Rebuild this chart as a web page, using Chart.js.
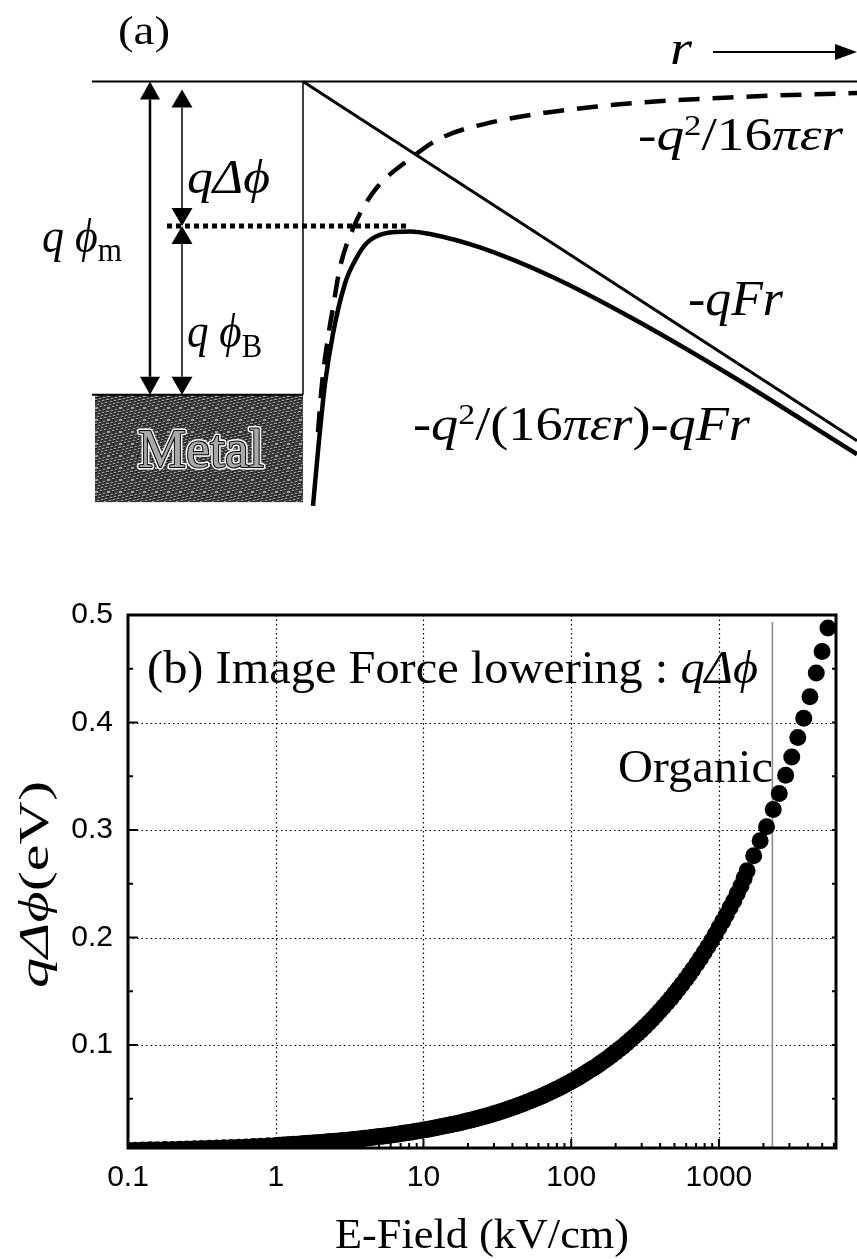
<!DOCTYPE html>
<html>
<head>
<meta charset="utf-8">
<script src="https://cdn.jsdelivr.net/npm/chart.js@4.4.1/dist/chart.umd.min.js"></script>
<style>
  html, body { margin: 0; padding: 0; background: #fff; }
  #wrap { position: relative; width: 857px; height: 1259px; }
  #diagram { position: absolute; left: 0; top: 0; }
  #plot { position: absolute; left: 0; top: 520px; }
</style>
</head>
<body>
<div id="wrap">
  <canvas id="diagram" width="857" height="520"></canvas>
  <canvas id="plot" width="857" height="739"></canvas>
</div>
<script>
// ---- (a) band diagram, r in arbitrary units (metal surface at r = 0), E in eV below vacuum level
const fieldR = [0, 5.54];
const fieldE = [0, -1.147];
const imageR = [0.15, 0.19, 0.25, 0.30, 0.37, 0.50, 0.70, 1.10, 1.37, 1.84, 2.94, 4.27, 5.54];
const imageE = [-1.12, -0.965, -0.818, -0.722, -0.594, -0.470, -0.355, -0.240, -0.182, -0.134, -0.080, -0.051, -0.037];
const totalR = [0.10, 0.15, 0.22, 0.30, 0.42, 0.52, 0.64, 0.82, 1.07, 1.27, 1.77, 2.50, 3.27, 4.27, 5.54];
const totalE = [-1.355, -1.18, -0.965, -0.805, -0.645, -0.572, -0.515, -0.485, -0.479, -0.487, -0.530, -0.625, -0.752, -0.937, -1.190];
const vacuumR = [-2.11, 5.54];
const workFn = 1.0;        // q phi_m
const lowering = 0.4615;   // q delta phi drawn in (a)

// ---- (b) image force lowering vs field (kV/cm, eV)
const fieldKV = [0.1, 0.112, 0.126, 0.141, 0.158, 0.178, 0.2, 0.224, 0.251, 0.282, 0.316, 0.355, 0.398, 0.447, 0.501, 0.562, 0.631, 0.708, 0.794, 0.891,
  1, 1.12, 1.26, 1.41, 1.58, 1.78, 2, 2.24, 2.51, 2.82, 3.16, 3.55, 3.98, 4.47, 5.01, 5.62, 6.31, 7.08, 7.94, 8.91,
  10, 11.2, 12.6, 14.1, 15.8, 17.8, 20, 22.4, 25.1, 28.2, 31.6, 35.5, 39.8, 44.7, 50.1, 56.2, 63.1, 70.8, 79.4, 89.1,
  100, 112, 126, 141, 158, 178, 200, 224, 251, 282, 316, 355, 398, 447, 501, 562, 631, 708, 794, 891,
  1000, 1120, 1260, 1410, 1550, 1720, 1900, 2100, 2330, 2560, 2830, 3110, 3420, 3750, 4130, 4560, 4990, 5470,
  // points lying between the ones above
  1.06, 1.19, 1.33, 1.50, 1.68, 1.88, 2.11, 2.37, 2.66, 2.99, 3.35, 3.76, 4.22, 4.73, 5.31, 5.96, 6.68, 7.50, 8.41, 9.44,
  10.6, 11.9, 13.3, 15.0, 16.8, 18.8, 21.1, 23.7, 26.6, 29.9, 33.5, 37.6, 42.2, 47.3, 53.1, 59.6, 66.8, 75.0, 84.1, 94.4,
  106, 119, 133, 150, 168, 188, 211, 237, 266, 299, 335, 376, 422, 473, 531, 596, 668, 750, 841, 944,
  1060, 1190, 1330, 1480];
const qDeltaPhi = [0.0021, 0.0022, 0.0023, 0.0025, 0.0026, 0.0028, 0.0029, 0.0031, 0.0033, 0.0035, 0.0037, 0.0039, 0.0042, 0.0044, 0.0047, 0.0049, 0.0052, 0.0056, 0.0059, 0.0062,
  0.0066, 0.0070, 0.0074, 0.0078, 0.0083, 0.0088, 0.0093, 0.0099, 0.0105, 0.0111, 0.0117, 0.0124, 0.0132, 0.0139, 0.0148, 0.0156, 0.0166, 0.0176, 0.0186, 0.0197,
  0.0209, 0.0221, 0.0234, 0.0248, 0.0263, 0.0278, 0.0295, 0.0312, 0.0331, 0.0350, 0.0371, 0.0393, 0.0416, 0.0441, 0.0467, 0.0495, 0.0524, 0.0555, 0.0588, 0.0623,
  0.0660, 0.0699, 0.0741, 0.0785, 0.0831, 0.0880, 0.0933, 0.0987, 0.1046, 0.1108, 0.1173, 0.1243, 0.1317, 0.1395, 0.1478, 0.1565, 0.1658, 0.1756, 0.1860, 0.1970,
  0.209, 0.221, 0.234, 0.248, 0.262, 0.276, 0.290, 0.303, 0.319, 0.334, 0.351, 0.368, 0.386, 0.404, 0.424, 0.446, 0.466, 0.488,
  0.0068, 0.0072, 0.0076, 0.0081, 0.0086, 0.0091, 0.0096, 0.0102, 0.0108, 0.0114, 0.0121, 0.0128, 0.0136, 0.0144, 0.0152, 0.0161, 0.0171, 0.0181, 0.0191, 0.0203,
  0.0215, 0.0228, 0.0241, 0.0255, 0.0270, 0.0286, 0.0303, 0.0321, 0.0340, 0.0361, 0.0382, 0.0405, 0.0429, 0.0454, 0.0481, 0.0509, 0.0540, 0.0572, 0.0605, 0.0641,
  0.0679, 0.0720, 0.0762, 0.0807, 0.0855, 0.0906, 0.0960, 0.1016, 0.1077, 0.1140, 0.1208, 0.1280, 0.1355, 0.1436, 0.1521, 0.1611, 0.1706, 0.1807, 0.1914, 0.2028,
  0.215, 0.228, 0.241, 0.255];
const xTicks = [0.1, 1, 10, 100, 1000];
const xTickLabels = ['0.1', '1', '10', '100', '1000'];
const yTicks = [0.1, 0.2, 0.3, 0.4, 0.5];
const yTickLabels = ['0.1', '0.2', '0.3', '0.4', '0.5'];
const markerField = 2300; // grey vertical line

const serif = '"Liberation Serif", "Times New Roman", serif';
const sans = '"Liberation Sans", Arial, sans-serif';

const pts = (xs, ys) => xs.map((v, i) => ({ x: v, y: ys[i] }));

// text made of runs [text, style], style n / i / sup / sub; optional width to stretch to
function runs(ctx, parts, x, y, size, align, width) {
  let w = 0;
  const items = parts.map(([t, s]) => {
    const sc = s === 'sup' ? 0.62 : s === 'sub' ? 0.7 : 1;
    const font = (s === 'i' ? 'italic ' : '') + Math.round(size * sc) + 'px ' + serif;
    ctx.font = font;
    const it = { t, font, x: w, dy: s === 'sup' ? -size * 0.33 : s === 'sub' ? size * 0.2 : 0 };
    w += ctx.measureText(t).width;
    return it;
  });
  const sx = width ? width / w : 1;
  const tw = w * sx;
  const x0 = align === 'center' ? x - tw / 2 : align === 'right' ? x - tw : x;
  ctx.save();
  ctx.translate(x0, y);
  ctx.scale(sx, 1);
  ctx.textAlign = 'left';
  ctx.textBaseline = 'alphabetic';
  items.forEach(it => { ctx.font = it.font; ctx.fillText(it.t, it.x, it.dy); });
  ctx.restore();
}

function metalPattern(ctx) {
  const c = document.createElement('canvas');
  c.width = c.height = 12;
  const g = c.getContext('2d');
  g.fillStyle = '#3c3c3c';
  g.fillRect(0, 0, 12, 12);
  for (let i = 0; i < 144; i++) {
    const k = (i * 53 + (i % 12) * 7) % 11;
    if (k === 0 || k === 5) { g.fillStyle = '#a0a0a0'; g.fillRect(i % 12, Math.floor(i / 12), 1, 1); }
    else if (k === 3) { g.fillStyle = '#101010'; g.fillRect(i % 12, Math.floor(i / 12), 1, 1); }
  }
  return ctx.createPattern(c, 'repeat');
}

function vArrow(ctx, x, y1, y2, lw, w, l) {
  ctx.lineWidth = lw;
  ctx.beginPath(); ctx.moveTo(x, y1 + l); ctx.lineTo(x, y2 - l); ctx.stroke();
  ctx.beginPath(); ctx.moveTo(x, y1); ctx.lineTo(x - w / 2, y1 + l); ctx.lineTo(x + w / 2, y1 + l); ctx.closePath(); ctx.fill();
  ctx.beginPath(); ctx.moveTo(x, y2); ctx.lineTo(x - w / 2, y2 - l); ctx.lineTo(x + w / 2, y2 - l); ctx.closePath(); ctx.fill();
}

const plateA = {
  id: 'plateA',
  beforeDatasetsDraw(chart) {
    const { ctx, scales: { x, y } } = chart;
    const X = v => x.getPixelForValue(v), Y = v => y.getPixelForValue(v);
    ctx.save();
    ctx.fillStyle = metalPattern(ctx);
    ctx.fillRect(X(-2.08), Y(-workFn), X(0) - X(-2.08), Y(-1.343) - Y(-workFn));
    ctx.strokeStyle = '#000';
    ctx.lineWidth = 2;
    ctx.beginPath(); ctx.moveTo(X(-2.11), Y(-workFn)); ctx.lineTo(X(0), Y(-workFn)); ctx.stroke();
    // Metal label, outlined
    ctx.font = '54px ' + serif;
    ctx.textAlign = 'center';
    ctx.lineJoin = 'round';
    ctx.strokeStyle = '#fff'; ctx.lineWidth = 5;
    ctx.strokeText('Metal', X(-1.02), Y(-1.231));
    ctx.strokeStyle = '#000'; ctx.lineWidth = 2;
    ctx.strokeText('Metal', X(-1.02), Y(-1.231));
    ctx.fillStyle = '#a8a8a8';
    ctx.fillText('Metal', X(-1.02), Y(-1.231));
    ctx.restore();
  },
  afterDatasetsDraw(chart) {
    const { ctx, scales: { x, y } } = chart;
    const X = v => x.getPixelForValue(v), Y = v => y.getPixelForValue(v);
    ctx.save();
    ctx.fillStyle = '#000';
    ctx.strokeStyle = '#000';
    vArrow(ctx, X(-1.53), Y(0), Y(-workFn), 2.5, 20, 18);
    vArrow(ctx, X(-1.21), Y(-0.026), Y(-lowering), 1.5, 21, 18);
    vArrow(ctx, X(-1.21), Y(-lowering), Y(-workFn), 1.5, 21, 18);
    // r arrow
    const ya = Y(0.094), xa = X(5.54);
    ctx.lineWidth = 2;
    ctx.beginPath(); ctx.moveTo(X(4.10), ya); ctx.lineTo(xa - 18, ya); ctx.stroke();
    ctx.beginPath(); ctx.moveTo(xa, ya); ctx.lineTo(xa - 22, ya - 8); ctx.lineTo(xa - 22, ya + 8); ctx.closePath(); ctx.fill();

    runs(ctx, [['(a)', 'n']], X(-1.85), Y(0.12), 40, 'left', 52);
    runs(ctx, [['r', 'i']], X(3.67), Y(0.056), 48, 'left', 22);
    runs(ctx, [['-', 'n'], ['q', 'i'], ['2', 'sup'], ['/16', 'n'], ['πεr', 'i']], X(3.35), Y(-0.219), 46, 'left', 205);
    runs(ctx, [['qΔϕ', 'i']], X(-1.16), Y(-0.356), 48, 'left', 83);
    runs(ctx, [['q ϕ', 'i'], ['m', 'sub']], X(-2.61), Y(-0.544), 48, 'left', 80);
    runs(ctx, [['q ϕ', 'i'], ['B', 'sub']], X(-1.16), Y(-0.848), 48, 'left', 75);
    runs(ctx, [['-', 'n'], ['qFr', 'i']], X(3.85), Y(-0.746), 50, 'left', 95);
    runs(ctx, [['-', 'n'], ['q', 'i'], ['2', 'sup'], ['/(16', 'n'], ['πεr', 'i'], [')-', 'n'], ['qFr', 'i']], X(1.10), Y(-1.145), 48, 'left', 337);
    ctx.restore();
  }
};

new Chart('diagram', {
  type: 'scatter',
  data: {
    datasets: [
      { data: pts(totalR, totalE), showLine: true, borderColor: '#000', borderWidth: 4.5, pointRadius: 0, cubicInterpolationMode: 'monotone' },
      { data: pts(fieldR, fieldE), showLine: true, borderColor: '#000', borderWidth: 3, pointRadius: 0 },
      { data: pts(imageR, imageE), showLine: true, borderColor: '#000', borderWidth: 4.5, borderDash: [21, 13], pointRadius: 0, cubicInterpolationMode: 'monotone' },
      { data: pts(vacuumR, [0, 0]), showLine: true, borderColor: '#000', borderWidth: 2, pointRadius: 0 },
      { data: pts([0, 0], [0, -workFn]), showLine: true, borderColor: '#000', borderWidth: 1.5, pointRadius: 0 },
      { data: pts([-1.36, 1.05], [-lowering, -lowering]), showLine: true, borderColor: '#000', borderWidth: 5, borderDash: [5, 4], pointRadius: 0 }
    ]
  },
  options: {
    responsive: false,
    animation: false,
    events: [],
    layout: { padding: 0 },
    plugins: { legend: { display: false }, tooltip: { enabled: false } },
    datasets: { scatter: { clip: false } },
    scales: {
      x: { type: 'linear', display: false, min: -3.03, max: 5.54 },
      y: { type: 'linear', display: false, min: -1.40, max: 0.26 }
    }
  },
  plugins: [plateA]
});

const plateB = {
  id: 'plateB',
  beforeDatasetsDraw(chart) {
    const { ctx, chartArea: a, scales: { x, y } } = chart;
    ctx.save();
    ctx.strokeStyle = '#000';
    ctx.lineWidth = 1.2;
    ctx.setLineDash([1.5, 3]);
    xTicks.slice(1).forEach(v => {
      const px = Math.round(x.getPixelForValue(v)) + 0.5;
      ctx.beginPath(); ctx.moveTo(px, a.top); ctx.lineTo(px, a.bottom); ctx.stroke();
    });
    yTicks.slice(0, -1).forEach(v => {
      const py = Math.round(y.getPixelForValue(v)) + 0.5;
      ctx.beginPath(); ctx.moveTo(a.left, py); ctx.lineTo(a.right, py); ctx.stroke();
    });
    ctx.setLineDash([]);
    ctx.strokeStyle = '#8c8c8c';
    ctx.lineWidth = 1.6;
    const gx = x.getPixelForValue(markerField);
    ctx.beginPath(); ctx.moveTo(gx, a.top + 7); ctx.lineTo(gx, a.bottom); ctx.stroke();
    ctx.restore();
  },
  afterDatasetsDraw(chart) {
    const { ctx, chartArea: a, scales: { x, y } } = chart;
    ctx.save();
    ctx.strokeStyle = '#000';
    ctx.fillStyle = '#000';
    // ticks
    ctx.lineWidth = 2;
    for (let d = 0.1; d < 5000; d *= 10) {
      for (let m = 1; m <= 9; m++) {
        const v = d * m;
        if (v <= 0.1 || v > x.max) continue;
        const px = x.getPixelForValue(v);
        const len = m === 1 ? 9 : 5;
        ctx.beginPath(); ctx.moveTo(px, a.bottom); ctx.lineTo(px, a.bottom - len); ctx.stroke();
      }
    }
    for (let k = 1; k < 10; k++) {
      const v = k * 0.05;
      const py = y.getPixelForValue(v);
      const len = k % 2 === 0 ? 10 : 5;
      ctx.beginPath(); ctx.moveTo(a.left, py); ctx.lineTo(a.left + len, py); ctx.stroke();
      ctx.beginPath(); ctx.moveTo(a.right, py); ctx.lineTo(a.right - 4, py); ctx.stroke();
    }
    // frame
    ctx.lineWidth = 3;
    ctx.strokeRect(a.left, a.top, a.right - a.left, a.bottom - a.top);

    runs(ctx, [['(b) Image Force lowering : ', 'n'], ['qΔϕ', 'i']], x.getPixelForValue(0.1345), y.getPixelForValue(0.4367), 46, 'left', 611);
    runs(ctx, [['Organic', 'n']], x.getPixelForValue(207), y.getPixelForValue(0.3447), 46, 'left', 155);
    runs(ctx, [['E-Field (kV/cm)', 'n']], (a.left + a.right) / 2, a.bottom + 100, 42, 'center', 294);
    ctx.translate(48, (a.top + a.bottom) / 2 + 3);
    ctx.rotate(-Math.PI / 2);
    runs(ctx, [['qΔϕ', 'i'], ['(eV)', 'n']], 0, 0, 42, 'center', 207);
    ctx.restore();
  }
};

new Chart('plot', {
  type: 'scatter',
  data: {
    datasets: [{
      data: pts(fieldKV, qDeltaPhi),
      pointRadius: 8.5,
      pointBackgroundColor: '#000',
      pointBorderWidth: 0,
      clip: { left: 0, right: 3, top: 3, bottom: 0 }
    }]
  },
  options: {
    responsive: false,
    animation: false,
    events: [],
    layout: { padding: { top: 95, right: 21, left: 0, bottom: 0 } },
    plugins: { legend: { display: false }, tooltip: { enabled: false } },
    scales: {
      x: {
        type: 'logarithmic', min: 0.1, max: 6200,
        grid: { display: false, drawTicks: false },
        border: { display: false },
        afterBuildTicks: s => { s.ticks = xTicks.map(v => ({ value: v })); },
        afterFit: s => { s.height = 111; },
        ticks: {
          autoSkip: false, maxRotation: 0, padding: 12, color: '#000',
          font: { family: sans, size: 30 },
          callback: v => xTickLabels[xTicks.indexOf(v)]
        }
      },
      y: {
        type: 'linear', min: 0.0042, max: 0.5,
        grid: { display: false, drawTicks: false },
        border: { display: false },
        afterBuildTicks: s => { s.ticks = yTicks.map(v => ({ value: v })); },
        afterFit: s => { s.width = 128; },
        ticks: {
          padding: 15, color: '#000',
          font: { family: sans, size: 30 },
          callback: v => yTickLabels[yTicks.indexOf(v)]
        }
      }
    }
  },
  plugins: [plateB]
});
</script>
</body>
</html>
